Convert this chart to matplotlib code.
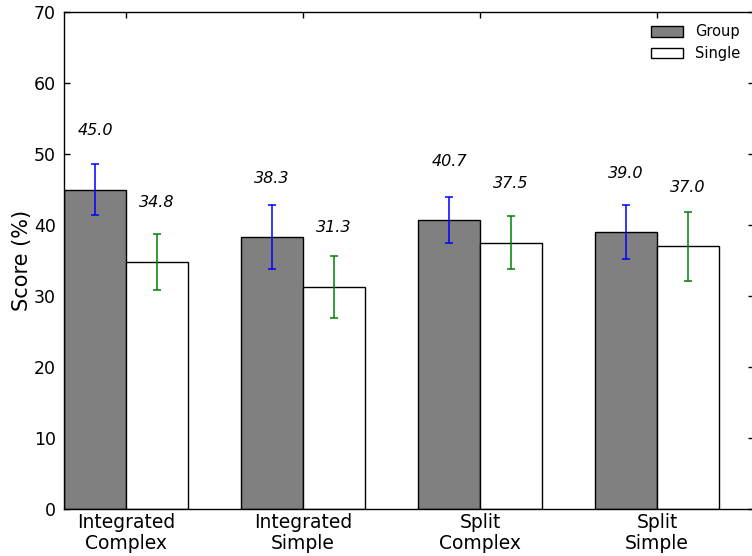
import numpy as np
import matplotlib
matplotlib.use("Agg")
import matplotlib.pyplot as plt

categories = ["Integrated\nComplex", "Integrated\nSimple", "Split\nComplex", "Split\nSimple"]
group_scores = [45.0, 38.3, 40.7, 39.0]
single_scores = [34.8, 31.3, 37.5, 37.0]
group_err = [3.6, 4.5, 3.2, 3.85]
single_err = [4.0, 4.35, 3.7, 4.9]

plt.rcParams["font.family"] = ["DejaVu Sans"]

fig = plt.figure(figsize=(7.52, 5.56), dpi=100)
xmax = 3.9
ax = fig.add_axes([64 / 752, 1 - 509 / 556, xmax * 177 / 752, (509 - 12) / 556])

ind = np.arange(len(categories))
width = 0.35

ax.bar(ind, group_scores, width, align="edge", color="#808080",
       edgecolor="black", linewidth=1, label="Group", zorder=2)
ax.bar(ind + width, single_scores, width, align="edge", color="white",
       edgecolor="black", linewidth=1, label="Single", zorder=2)

ax.errorbar(ind + width / 2, group_scores, yerr=group_err, fmt="none",
            ecolor="blue", elinewidth=1.1, capsize=3, capthick=1.1, zorder=3)
ax.errorbar(ind + 1.5 * width, single_scores, yerr=single_err, fmt="none",
            ecolor="green", elinewidth=1.1, capsize=3, capthick=1.1, zorder=3)

for x, v in zip(ind + width / 2, group_scores):
    ax.text(x, v + 8.3, f"{v:.1f}", ha="center", va="center",
            fontsize=11.5, style="italic")
for x, v in zip(ind + 1.5 * width, single_scores):
    ax.text(x, v + 8.3, f"{v:.1f}", ha="center", va="center",
            fontsize=11.5, style="italic")

ax.set_xlim(0, xmax)
ax.set_ylim(0, 70)
ax.set_yticks(np.arange(0, 71, 10))
ax.set_xticks(ind + width)
ax.set_xticklabels(categories, fontsize=13.5, linespacing=1.12)
ax.tick_params(axis="y", labelsize=12.5, pad=6)
ax.tick_params(axis="x", pad=3)
ax.tick_params(direction="in", top=True, right=True, length=4, width=1)
ax.set_ylabel("Score (%)", fontsize=15, labelpad=1)

for s in ax.spines.values():
    s.set_linewidth(1)

ax.legend(loc="upper right", frameon=False, fontsize=10.5,
          handlelength=2.2, handleheight=0.75, handletextpad=0.8,
          labelspacing=0.45, borderaxespad=0.45,
          bbox_to_anchor=(752 / 754, 1.0))

fig.savefig("out.png", dpi=100)
